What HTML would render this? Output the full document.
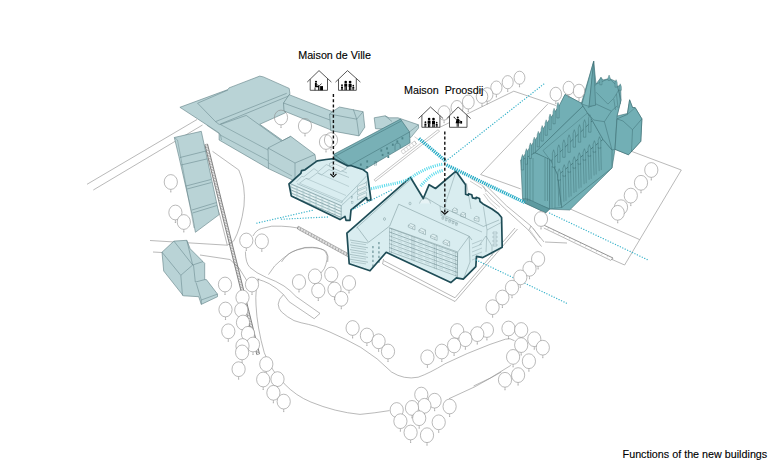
<!DOCTYPE html>
<html><head><meta charset="utf-8"><style>html,body{margin:0;padding:0;background:#fff;width:780px;height:468px;overflow:hidden}svg{display:block}text{font-family:"Liberation Sans",sans-serif;fill:#000;stroke:#000;stroke-width:0.12px}</style></head>
<body><svg width="780" height="468" viewBox="0 0 780 468" font-family="Liberation Sans, sans-serif" fill="#000">
<rect width="780" height="468" fill="#fff"/>
<g id="ground"></g>
<polyline points="87.0,184.3 197.0,119.5" fill="none" stroke="#8a8a8a" stroke-width="0.6" stroke-linejoin="round" /><polyline points="93.3,190.0 202.5,125.0" fill="none" stroke="#8a8a8a" stroke-width="0.6" stroke-linejoin="round" /><polyline points="150.0,240.5 227.3,245.2 220.0,216.0 214.0,198.0" fill="none" stroke="#8a8a8a" stroke-width="0.6" stroke-linejoin="round" /><polyline points="153.0,252.0 162.0,252.5" fill="none" stroke="#8a8a8a" stroke-width="0.6" stroke-linejoin="round" /><polyline points="200.0,255.0 230.0,259.5 239.0,268.0 247.0,281.0" fill="none" stroke="#8a8a8a" stroke-width="0.6" stroke-linejoin="round" /><path d="M212.5,151.3 L238.8,170 Q246,186 244,206 Q241,228 233.8,240.8 Q230,244 227.3,245.2" fill="none" stroke="#8a8a8a" stroke-width="0.6" /><path d="M258.8,278.5 Q255,290 256,305 Q257,327 264.3,352.8 Q272,372 284.1,383.6 Q296,396 310.8,402 Q335,412 360,414.4 Q375,413 389.5,410.6" fill="none" stroke="#8a8a8a" stroke-width="0.6" /><path d="M245.4,251.5 Q245.5,263 250,267.5 Q256,273 266.5,277.5 Q276,281 284,286 Q290,290 296,296.5 L320,313.4 L314.2,318.7" fill="none" stroke="#8a8a8a" stroke-width="0.6" /><path d="M257,279 Q264,281 269.2,283.7 Q277,288 283.5,294.6 L289.2,301.8 L314.2,318.7" fill="none" stroke="#8a8a8a" stroke-width="0.6" /><path d="M268.5,274.6 Q274,265 282,259.2 Q290,252 297.3,249.6 Q305,246.5 312.7,247.3 Q322,248 325.2,251.5 Q328,255 327.1,259.2 Q326,265 324.2,268.8 L320.4,273.7" fill="none" stroke="#8a8a8a" stroke-width="0.6" /><path d="M253,236 Q256,230 261.5,228.5 Q272,225 281.5,226.2 Q290,226.5 298,228" fill="none" stroke="#8a8a8a" stroke-width="0.6" /><polygon points="298.5,226.3 350.0,254.5 349.0,257.3 297.5,229.0" fill="#e2e2e2" stroke="#888" stroke-width="0.6" stroke-linejoin="round" /><path d="M298.0,226.4l-0.6,2.6M300.7,227.9l-0.6,2.6M303.4,229.4l-0.6,2.6M306.1,230.9l-0.6,2.6M308.8,232.3l-0.6,2.6M311.6,233.8l-0.6,2.6M314.3,235.3l-0.6,2.6M317.0,236.8l-0.6,2.6M319.7,238.3l-0.6,2.6M322.4,239.8l-0.6,2.6M325.1,241.2l-0.6,2.6M327.8,242.7l-0.6,2.6M330.5,244.2l-0.6,2.6M333.2,245.7l-0.6,2.6M335.9,247.2l-0.6,2.6M338.7,248.7l-0.6,2.6M341.4,250.1l-0.6,2.6M344.1,251.6l-0.6,2.6M346.8,253.1l-0.6,2.6M349.5,254.6l-0.6,2.6" fill="none" stroke="#777" stroke-width="0.5" /><path d="M281.5,262 Q288,252 297,250 Q305,247 312.3,247.7 Q322,248 326.2,251.5 Q329,256 327.7,262" fill="none" stroke="#8a8a8a" stroke-width="0.6" /><path d="M283.5,294.6 Q278.5,299 278.2,304.2 Q278.5,309 281.5,311.9 Q287,317 294,320.6 Q301,323 308.5,324.4 Q316,326 322.9,329.2 L330,332.1 Q346,339 360.8,347.4 Q378,358 391.5,372 Q404,380 418.2,377.2 Q430,373 444.9,363.8 Q467,353 490,344.4 L505.4,339.2 Q510,337.5 514.6,340.8" fill="none" stroke="#8a8a8a" stroke-width="0.6" /><path d="M473.6,386 L490,378.2 L510.8,365.4" fill="none" stroke="#8a8a8a" stroke-width="0.6" /><path d="M449,398.7 Q475,388 501.3,372" fill="none" stroke="#8a8a8a" stroke-width="0.6" /><polyline points="439.0,127.7 513.8,91.2 556.0,105.5" fill="none" stroke="#8a8a8a" stroke-width="0.6" stroke-linejoin="round" /><polyline points="547.7,104.1 480.6,174.5 520.7,188.9" fill="none" stroke="#8a8a8a" stroke-width="0.6" stroke-linejoin="round" /><polyline points="628.0,150.0 681.3,170.0 624.6,265.0 611.0,259.0" fill="none" stroke="#8a8a8a" stroke-width="0.6" stroke-linejoin="round" /><polyline points="569.2,208.5 639.6,239.6" fill="none" stroke="#8a8a8a" stroke-width="0.6" stroke-linejoin="round" /><polyline points="382.6,264.0 455.0,301.5 517.5,229.0" fill="none" stroke="#8a8a8a" stroke-width="0.6" stroke-linejoin="round" /><polyline points="384.0,260.8 455.0,297.8 515.0,228.0" fill="none" stroke="#8a8a8a" stroke-width="0.6" stroke-linejoin="round" /><polyline points="383.6,259.0 382.6,264.0" fill="none" stroke="#8a8a8a" stroke-width="0.6" stroke-linejoin="round" /><polyline points="542.7,224.6 613.0,258.0" fill="none" stroke="#777" stroke-width="0.8" stroke-linejoin="round" /><polyline points="543.8,228.0 610.8,260.4" fill="none" stroke="#8a8a8a" stroke-width="0.6" stroke-linejoin="round" /><path d="M543.0,225.0l-0.5,1.6M548.4,227.6l-0.5,1.6M553.8,230.1l-0.5,1.6M559.2,232.7l-0.5,1.6M564.5,235.3l-0.5,1.6M569.9,237.8l-0.5,1.6M575.3,240.4l-0.5,1.6M580.7,243.0l-0.5,1.6M586.1,245.6l-0.5,1.6M591.5,248.1l-0.5,1.6M596.8,250.7l-0.5,1.6M602.2,253.3l-0.5,1.6M607.6,255.8l-0.5,1.6M613.0,258.4l-0.5,1.6" fill="none" stroke="#999" stroke-width="0.4" /><polyline points="613.0,258.0 610.8,260.4" fill="none" stroke="#8a8a8a" stroke-width="0.6" stroke-linejoin="round" /><polyline points="482.6,186.4 504.4,208.2 528.8,230.4 541.5,246.5" fill="none" stroke="#8a8a8a" stroke-width="0.6" stroke-linejoin="round" /><polyline points="485.0,184.5 506.5,205.8 531.0,226.0 544.0,242.0" fill="none" stroke="#8a8a8a" stroke-width="0.6" stroke-linejoin="round" /><polyline points="528.8,230.4 531.0,226.0" fill="none" stroke="#8a8a8a" stroke-width="0.6" stroke-linejoin="round" /><polyline points="545.0,242.0 567.0,243.0" fill="none" stroke="#8a8a8a" stroke-width="0.6" stroke-linejoin="round" /><polyline points="530.0,230.0 537.0,240.0" fill="none" stroke="#999" stroke-width="0.4" stroke-linejoin="round" /><polyline points="533.0,228.0 540.0,238.0" fill="none" stroke="#999" stroke-width="0.4" stroke-linejoin="round" /><polyline points="471.0,178.5 483.8,186.5 486.0,192.0" fill="none" stroke="#999" stroke-width="0.5" stroke-linejoin="round" /><polyline points="470.0,181.0 482.0,188.5" fill="none" stroke="#999" stroke-width="0.5" stroke-linejoin="round" /><path d="M485.4,192.9 Q490,200 499.9,207.3" fill="none" stroke="#999" stroke-width="0.5" /><path d="M483.5,194 Q488,202 497,209" fill="none" stroke="#999" stroke-width="0.5" /><polyline points="207.5,144.0 259.5,354.0" fill="none" stroke="#555" stroke-width="0.7" stroke-linejoin="round" /><polyline points="204.8,144.7 256.8,354.7" fill="none" stroke="#555" stroke-width="0.7" stroke-linejoin="round" /><path d="M207.5,144.0l-2.7,0.7M207.9,145.6l-2.7,0.7M208.3,147.1l-2.7,0.7M208.7,148.7l-2.7,0.7M209.0,150.2l-2.7,0.7M209.4,151.8l-2.7,0.7M209.8,153.3l-2.7,0.7M210.2,154.9l-2.7,0.7M210.6,156.4l-2.7,0.7M211.0,158.0l-2.7,0.7M211.4,159.6l-2.7,0.7M211.7,161.1l-2.7,0.7M212.1,162.7l-2.7,0.7M212.5,164.2l-2.7,0.7M212.9,165.8l-2.7,0.7M213.3,167.3l-2.7,0.7M213.7,168.9l-2.7,0.7M214.0,170.4l-2.7,0.7M214.4,172.0l-2.7,0.7M214.8,173.6l-2.7,0.7M215.2,175.1l-2.7,0.7M215.6,176.7l-2.7,0.7M216.0,178.2l-2.7,0.7M216.4,179.8l-2.7,0.7M216.7,181.3l-2.7,0.7M217.1,182.9l-2.7,0.7M217.5,184.4l-2.7,0.7M217.9,186.0l-2.7,0.7M218.3,187.6l-2.7,0.7M218.7,189.1l-2.7,0.7M219.1,190.7l-2.7,0.7M219.4,192.2l-2.7,0.7M219.8,193.8l-2.7,0.7M220.2,195.3l-2.7,0.7M220.6,196.9l-2.7,0.7M221.0,198.4l-2.7,0.7M221.4,200.0l-2.7,0.7M221.8,201.6l-2.7,0.7M222.1,203.1l-2.7,0.7M222.5,204.7l-2.7,0.7M222.9,206.2l-2.7,0.7M223.3,207.8l-2.7,0.7M223.7,209.3l-2.7,0.7M224.1,210.9l-2.7,0.7M224.4,212.4l-2.7,0.7M224.8,214.0l-2.7,0.7M225.2,215.6l-2.7,0.7M225.6,217.1l-2.7,0.7M226.0,218.7l-2.7,0.7M226.4,220.2l-2.7,0.7M226.8,221.8l-2.7,0.7M227.1,223.3l-2.7,0.7M227.5,224.9l-2.7,0.7M227.9,226.4l-2.7,0.7M228.3,228.0l-2.7,0.7M228.7,229.6l-2.7,0.7M229.1,231.1l-2.7,0.7M229.5,232.7l-2.7,0.7M229.8,234.2l-2.7,0.7M230.2,235.8l-2.7,0.7M230.6,237.3l-2.7,0.7M231.0,238.9l-2.7,0.7M231.4,240.4l-2.7,0.7M231.8,242.0l-2.7,0.7M232.2,243.6l-2.7,0.7M232.5,245.1l-2.7,0.7M232.9,246.7l-2.7,0.7M233.3,248.2l-2.7,0.7M233.7,249.8l-2.7,0.7M234.1,251.3l-2.7,0.7M234.5,252.9l-2.7,0.7M234.8,254.4l-2.7,0.7M235.2,256.0l-2.7,0.7M235.6,257.6l-2.7,0.7M236.0,259.1l-2.7,0.7M236.4,260.7l-2.7,0.7M236.8,262.2l-2.7,0.7M237.2,263.8l-2.7,0.7M237.5,265.3l-2.7,0.7M237.9,266.9l-2.7,0.7M238.3,268.4l-2.7,0.7M238.7,270.0l-2.7,0.7M239.1,271.6l-2.7,0.7M239.5,273.1l-2.7,0.7M239.9,274.7l-2.7,0.7M240.2,276.2l-2.7,0.7M240.6,277.8l-2.7,0.7M241.0,279.3l-2.7,0.7M241.4,280.9l-2.7,0.7M241.8,282.4l-2.7,0.7M242.2,284.0l-2.7,0.7M242.6,285.6l-2.7,0.7M242.9,287.1l-2.7,0.7M243.3,288.7l-2.7,0.7M243.7,290.2l-2.7,0.7M244.1,291.8l-2.7,0.7M244.5,293.3l-2.7,0.7M244.9,294.9l-2.7,0.7M245.2,296.4l-2.7,0.7M245.6,298.0l-2.7,0.7M246.0,299.6l-2.7,0.7M246.4,301.1l-2.7,0.7M246.8,302.7l-2.7,0.7M247.2,304.2l-2.7,0.7M247.6,305.8l-2.7,0.7M247.9,307.3l-2.7,0.7M248.3,308.9l-2.7,0.7M248.7,310.4l-2.7,0.7M249.1,312.0l-2.7,0.7M249.5,313.6l-2.7,0.7M249.9,315.1l-2.7,0.7M250.3,316.7l-2.7,0.7M250.6,318.2l-2.7,0.7M251.0,319.8l-2.7,0.7M251.4,321.3l-2.7,0.7M251.8,322.9l-2.7,0.7M252.2,324.4l-2.7,0.7M252.6,326.0l-2.7,0.7M253.0,327.6l-2.7,0.7M253.3,329.1l-2.7,0.7M253.7,330.7l-2.7,0.7M254.1,332.2l-2.7,0.7M254.5,333.8l-2.7,0.7M254.9,335.3l-2.7,0.7M255.3,336.9l-2.7,0.7M255.6,338.4l-2.7,0.7M256.0,340.0l-2.7,0.7M256.4,341.6l-2.7,0.7M256.8,343.1l-2.7,0.7M257.2,344.7l-2.7,0.7M257.6,346.2l-2.7,0.7M258.0,347.8l-2.7,0.7M258.3,349.3l-2.7,0.7M258.7,350.9l-2.7,0.7M259.1,352.4l-2.7,0.7M259.5,354.0l-2.7,0.7" fill="none" stroke="#666" stroke-width="0.5" />
<ellipse cx="281.0" cy="117.5" rx="6.60" ry="7.40" fill="#fff"/><ellipse cx="305.0" cy="126.0" rx="6.60" ry="7.40" fill="#fff"/><ellipse cx="331.0" cy="140.0" rx="6.60" ry="7.40" fill="#fff"/><ellipse cx="326.0" cy="142.0" rx="6.60" ry="7.40" fill="#fff"/>
<polygon points="174.3,137.5 201.3,131.3 219.2,214.6 195.4,232.3 192.5,216.3 178.8,156.3" fill="#b9d3d6" stroke="#5f7f84" stroke-width="0.6" stroke-linejoin="round" /><polyline points="180.0,157.5 206.0,151.0" fill="none" stroke="#5f7f84" stroke-width="0.5" stroke-linejoin="round" /><polyline points="181.0,165.0 207.5,158.8" fill="none" stroke="#5f7f84" stroke-width="0.5" stroke-linejoin="round" /><polyline points="186.0,186.0 211.0,179.5" fill="none" stroke="#5f7f84" stroke-width="0.5" stroke-linejoin="round" /><polyline points="187.0,189.0 211.5,182.5" fill="none" stroke="#5f7f84" stroke-width="0.5" stroke-linejoin="round" /><polyline points="192.0,210.0 216.5,202.5" fill="none" stroke="#5f7f84" stroke-width="0.5" stroke-linejoin="round" /><polyline points="192.5,213.0 217.0,205.5" fill="none" stroke="#5f7f84" stroke-width="0.5" stroke-linejoin="round" /><polyline points="174.3,137.5 177.5,140.0 194.0,228.0" fill="none" stroke="#5f7f84" stroke-width="0.4" stroke-linejoin="round" /><polygon points="162.0,252.2 173.9,241.1 186.8,240.3 190.2,248.8 203.0,261.6 204.7,263.3 204.7,279.6 206.4,279.6 217.5,294.1 217.5,296.7 201.3,304.4 198.7,296.7 183.3,295.8 163.7,271.0" fill="#b9d3d6" stroke="#5f7f84" stroke-width="0.6" stroke-linejoin="round" /><polyline points="162.0,252.2 180.8,275.3 192.7,265.0" fill="none" stroke="#5f7f84" stroke-width="0.5" stroke-linejoin="round" /><polyline points="180.8,275.3 182.5,295.8" fill="none" stroke="#5f7f84" stroke-width="0.5" stroke-linejoin="round" /><polyline points="173.9,241.1 192.7,265.0" fill="none" stroke="#5f7f84" stroke-width="0.5" stroke-linejoin="round" /><polyline points="186.8,240.3 192.7,265.0" fill="none" stroke="#5f7f84" stroke-width="0.5" stroke-linejoin="round" /><polyline points="192.7,265.0 203.0,261.6" fill="none" stroke="#5f7f84" stroke-width="0.5" stroke-linejoin="round" /><polyline points="193.5,265.0 195.3,282.1 204.7,279.6" fill="none" stroke="#5f7f84" stroke-width="0.5" stroke-linejoin="round" /><polyline points="196.2,283.0 201.3,300.0 217.5,294.1" fill="none" stroke="#5f7f84" stroke-width="0.5" stroke-linejoin="round" /><polyline points="201.3,300.0 201.3,304.4" fill="none" stroke="#5f7f84" stroke-width="0.5" stroke-linejoin="round" /><polygon points="179.9,107.3 227.8,89.6 229.0,87.9 259.7,76.1 263.4,76.9 289.2,88.4 289.9,93.3 285.4,112.8 259.8,124.3 282.7,140.6 290.7,136.3 315.0,154.5 316.3,163.8 292.5,180.0 268.8,168.8 219.1,140.0 219.1,133.0 202.7,122.2" fill="#b9d3d6" stroke="#5f7f84" stroke-width="0.6" stroke-linejoin="round" /><polyline points="197.6,103.2 215.5,121.6 286.7,93.3" fill="none" stroke="#5f7f84" stroke-width="0.5" stroke-linejoin="round" /><polyline points="215.5,121.6 219.2,124.5 289.2,95.8" fill="none" stroke="#5f7f84" stroke-width="0.5" stroke-linejoin="round" /><polyline points="197.6,103.2 228.0,90.0" fill="none" stroke="#5f7f84" stroke-width="0.5" stroke-linejoin="round" /><polyline points="220.4,124.5 246.2,115.4 281.8,141.2" fill="none" stroke="#5f7f84" stroke-width="0.5" stroke-linejoin="round" /><polyline points="220.4,124.5 268.0,150.0" fill="none" stroke="#5f7f84" stroke-width="0.45" stroke-linejoin="round" /><polyline points="268.0,148.0 290.7,136.3" fill="none" stroke="#5f7f84" stroke-width="0.5" stroke-linejoin="round" /><polyline points="268.0,148.0 268.5,168.8" fill="none" stroke="#5f7f84" stroke-width="0.5" stroke-linejoin="round" /><polyline points="268.0,148.0 295.0,163.0 315.0,154.5" fill="none" stroke="#5f7f84" stroke-width="0.5" stroke-linejoin="round" /><polyline points="295.0,163.0 295.0,178.0" fill="none" stroke="#5f7f84" stroke-width="0.5" stroke-linejoin="round" /><polyline points="206.9,125.3 220.4,134.5 221.5,140.0" fill="none" stroke="#5f7f84" stroke-width="0.45" stroke-linejoin="round" /><polyline points="220.4,135.1 268.0,160.5" fill="none" stroke="#5f7f84" stroke-width="0.45" stroke-linejoin="round" /><polyline points="268.5,163.0 292.0,176.0" fill="none" stroke="#5f7f84" stroke-width="0.4" stroke-linejoin="round" /><polygon points="289.2,94.7 332.5,111.7 331.3,130.1 284.0,111.0 283.5,103.0" fill="#b9d3d6" stroke="#5f7f84" stroke-width="0.6" stroke-linejoin="round" /><polyline points="283.5,103.0 330.8,120.3" fill="none" stroke="#5f7f84" stroke-width="0.5" stroke-linejoin="round" /><polygon points="334.2,110.5 339.4,107.0 363.1,111.7 364.8,127.2 359.0,135.9 330.8,130.7 329.6,114.0" fill="#b9d3d6" stroke="#5f7f84" stroke-width="0.6" stroke-linejoin="round" /><polyline points="329.6,114.0 356.7,119.2 363.1,111.7" fill="none" stroke="#5f7f84" stroke-width="0.5" stroke-linejoin="round" /><polyline points="356.7,119.2 359.0,135.9" fill="none" stroke="#5f7f84" stroke-width="0.5" stroke-linejoin="round" /><polyline points="353.3,109.3 356.7,119.2" fill="none" stroke="#5f7f84" stroke-width="0.5" stroke-linejoin="round" /><polygon points="374.2,117.8 385.1,115.8 389.0,117.8 398.0,117.8 418.5,124.8 418.6,128.0 410.8,137.6 400.0,130.0 375.5,128.7" fill="#b9d3d6" stroke="#5f7f84" stroke-width="0.6" stroke-linejoin="round" /><polyline points="385.1,115.8 392.0,121.5" fill="none" stroke="#5f7f84" stroke-width="0.5" stroke-linejoin="round" /><polyline points="409.5,131.9 418.5,124.8" fill="none" stroke="#5f7f84" stroke-width="0.5" stroke-linejoin="round" /><polygon points="333.8,154.3 400.5,119.1 409.5,131.9 410.1,142.8 362.0,171.0 352.0,168.0 335.0,162.0" fill="#78b0b6" stroke="#3d6c72" stroke-width="0.6" stroke-linejoin="round" /><polyline points="335.1,156.2 401.2,121.0" fill="none" stroke="#3d6c72" stroke-width="0.5" stroke-linejoin="round" /><polyline points="333.8,154.3 349.2,165.8 409.5,132.0" fill="none" stroke="#3d6c72" stroke-width="0.5" stroke-linejoin="round" /><rect x="359.9" y="163.5" width="1.8" height="2.2" fill="#4f858b"/><rect x="366.3" y="160.3" width="1.8" height="2.2" fill="#4f858b"/><rect x="366.3" y="166.0" width="1.8" height="2.2" fill="#4f858b"/><rect x="380.4" y="149.4" width="1.8" height="2.2" fill="#4f858b"/><rect x="386.1" y="147.4" width="1.8" height="2.2" fill="#4f858b"/><rect x="391.9" y="143.6" width="1.8" height="2.2" fill="#4f858b"/><rect x="396.4" y="140.4" width="1.8" height="2.2" fill="#4f858b"/><rect x="401.5" y="137.2" width="1.8" height="2.2" fill="#4f858b"/><rect x="381.7" y="153.9" width="1.8" height="2.2" fill="#4f858b"/><rect x="387.4" y="151.9" width="1.8" height="2.2" fill="#4f858b"/><rect x="387.4" y="155.8" width="1.8" height="2.2" fill="#4f858b"/><path d="M374.8,166V161.5h1.6V165.5" fill="none" stroke="#3d6c72" stroke-width="0.45" /><path d="M395,150.5V146.5a2.6,2.6 0 0 1 5.2,-1.5V148" fill="none" stroke="#3d6c72" stroke-width="0.5" /><polygon points="374.2,179.7 438.0,129.7 439.6,131.2 375.4,181.3" fill="#fff" stroke="#8a8a8a" stroke-width="0.5" stroke-linejoin="round" /><polyline points="401.0,151.0 414.5,141.0 416.5,144.0 403.0,154.0" fill="none" stroke="#999" stroke-width="0.45" stroke-linejoin="round" /><path d="M401.0,151.0l2,3M403.7,149.0l2,3M406.4,147.0l2,3M409.1,145.0l2,3M411.8,143.0l2,3M414.5,141.0l2,3" fill="none" stroke="#999" stroke-width="0.4" /><polyline points="414.5,136.7 419.0,140.0" fill="none" stroke="#999" stroke-width="0.45" stroke-linejoin="round" /><polygon points="520.7,160.0 523.5,158.8 560.0,105.0 565.0,94.5 581.4,103.2 593.7,61.3 596.0,84.1 601.0,77.4 603.0,80.0 609.4,78.5 616.0,81.5 617.3,86.4 620.6,85.3 621.0,100.0 617.0,116.0 627.4,113.5 629.6,99.8 632.5,107.5 635.2,107.7 641.9,118.9 640.8,141.3 628.5,154.8 615.0,149.3 612.0,168.0 569.7,210.0 549.5,209.1 545.8,212.8 524.8,203.0 522.6,198.7" fill="#72afb5" stroke="#3f6f74" stroke-width="0.6" stroke-linejoin="round" /><polygon points="521.0,160.0 559.0,106.0 565.0,94.5 581.4,103.2 583.0,106.0 535.0,152.7 525.7,158.1" fill="#72afb5" stroke="#3f6f74" stroke-width="0.5" stroke-linejoin="round" /><polygon points="535.0,152.7 583.0,106.0 592.4,120.7 551.0,160.8" fill="#72afb5" stroke="#3f6f74" stroke-width="0.55" stroke-linejoin="round" /><polyline points="543.0,150.5 587.5,113.0" fill="none" stroke="#3f6f74" stroke-width="0.4" stroke-linejoin="round" /><polygon points="525.7,158.1 535.0,152.7 549.7,159.4 549.7,208.8 525.7,199.5" fill="#72afb5" stroke="#3f6f74" stroke-width="0.55" stroke-linejoin="round" /><polygon points="551.0,160.8 592.4,120.7 603.0,139.4 557.7,175.4" fill="#72afb5" stroke="#3f6f74" stroke-width="0.55" stroke-linejoin="round" /><polygon points="549.7,159.4 551.0,160.8 557.7,175.4 561.7,207.5 549.7,208.8" fill="#72afb5" stroke="#3f6f74" stroke-width="0.5" stroke-linejoin="round" /><polygon points="557.7,175.4 603.0,139.4 612.0,150.0 612.0,168.0 561.7,207.5" fill="#72afb5" stroke="#3f6f74" stroke-width="0.55" stroke-linejoin="round" /><polygon points="581.4,103.2 583.0,106.0 592.4,120.7 603.0,139.4 612.0,150.0 615.0,149.3 617.0,116.0 621.0,100.0 617.3,86.4 609.4,78.5 596.0,84.1" fill="#72afb5" stroke="#3f6f74" stroke-width="0.5" stroke-linejoin="round" /><polyline points="587.9,107.6 596.2,104.1 611.4,111.1 604.4,121.7 593.7,120.0 587.5,113.0" fill="none" stroke="#3f6f74" stroke-width="0.5" stroke-linejoin="round" /><polyline points="611.4,111.1 617.0,106.0" fill="none" stroke="#3f6f74" stroke-width="0.5" stroke-linejoin="round" /><polyline points="604.4,121.7 612.0,150.0" fill="none" stroke="#3f6f74" stroke-width="0.5" stroke-linejoin="round" /><polyline points="596.2,92.3 607.9,104.1 613.8,98.2 620.2,87.6" fill="none" stroke="#3f6f74" stroke-width="0.45" stroke-linejoin="round" /><polygon points="599.8,84.8 599.8,80.3 600.9,77.3 602.0,80.3 602.0,84.8" fill="#72afb5" stroke="#3f6f74" stroke-width="0.4" stroke-linejoin="round" /><polygon points="608.0,80.5 608.0,78.0 609.1,75.0 610.2,78.0 610.2,80.5" fill="#72afb5" stroke="#3f6f74" stroke-width="0.4" stroke-linejoin="round" /><polygon points="615.0,87.2 615.0,82.7 616.1,79.7 617.2,82.7 617.2,87.2" fill="#72afb5" stroke="#3f6f74" stroke-width="0.4" stroke-linejoin="round" /><polygon points="619.1,90.3 619.1,86.8 620.2,83.8 621.3,86.8 621.3,90.3" fill="#72afb5" stroke="#3f6f74" stroke-width="0.4" stroke-linejoin="round" /><path d="M613.8,99L615.5,110M616.5,94L618,108M619,90L620.5,104" fill="none" stroke="#3f6f74" stroke-width="0.45" /><polygon points="582.0,104.1 593.7,61.3 589.1,106.4" fill="#7db8bd" stroke="#3f6f74" stroke-width="0.5" stroke-linejoin="round" /><polygon points="589.1,106.4 593.7,61.3 595.6,105.3" fill="#6aa7ad" stroke="#3f6f74" stroke-width="0.5" stroke-linejoin="round" /><polygon points="615.0,149.3 617.0,118.9 627.4,114.4 629.6,99.8 632.5,107.5 635.2,107.7 641.9,118.9 640.8,141.3 628.5,154.8" fill="#72afb5" stroke="#3f6f74" stroke-width="0.6" stroke-linejoin="round" /><polyline points="617.0,118.9 623.0,121.0 632.5,129.7 641.9,118.9" fill="none" stroke="#3f6f74" stroke-width="0.5" stroke-linejoin="round" /><polyline points="632.5,129.7 631.5,152.0" fill="none" stroke="#3f6f74" stroke-width="0.5" stroke-linejoin="round" /><polyline points="627.4,114.4 635.2,107.7" fill="none" stroke="#3f6f74" stroke-width="0.4" stroke-linejoin="round" /><polygon points="522.6,198.7 524.8,203.0 545.8,212.8 549.5,209.1 528.0,199.0" fill="#5d9aa0" stroke="#3f6f74" stroke-width="0.5" stroke-linejoin="round" /><polygon points="521.4,170.0 521.4,158.0 522.5,154.5 523.6,158.0 523.6,170.0" fill="#72afb5" stroke="#3f6f74" stroke-width="0.45" stroke-linejoin="round" /><polygon points="525.3,164.2 525.3,152.2 526.4,148.7 527.5,152.2 527.5,164.2" fill="#72afb5" stroke="#3f6f74" stroke-width="0.45" stroke-linejoin="round" /><polygon points="529.3,158.4 529.3,146.4 530.4,142.9 531.5,146.4 531.5,158.4" fill="#72afb5" stroke="#3f6f74" stroke-width="0.45" stroke-linejoin="round" /><polygon points="533.2,152.7 533.2,140.7 534.3,137.2 535.4,140.7 535.4,152.7" fill="#72afb5" stroke="#3f6f74" stroke-width="0.45" stroke-linejoin="round" /><polygon points="537.2,146.9 537.2,134.9 538.3,131.4 539.4,134.9 539.4,146.9" fill="#72afb5" stroke="#3f6f74" stroke-width="0.45" stroke-linejoin="round" /><polygon points="541.1,141.1 541.1,129.1 542.2,125.6 543.3,129.1 543.3,141.1" fill="#72afb5" stroke="#3f6f74" stroke-width="0.45" stroke-linejoin="round" /><polygon points="545.1,135.3 545.1,123.3 546.2,119.8 547.3,123.3 547.3,135.3" fill="#72afb5" stroke="#3f6f74" stroke-width="0.45" stroke-linejoin="round" /><polygon points="549.0,129.6 549.0,117.6 550.1,114.1 551.2,117.6 551.2,129.6" fill="#72afb5" stroke="#3f6f74" stroke-width="0.45" stroke-linejoin="round" /><polygon points="553.0,123.8 553.0,111.8 554.1,108.3 555.2,111.8 555.2,123.8" fill="#72afb5" stroke="#3f6f74" stroke-width="0.45" stroke-linejoin="round" /><polygon points="556.9,118.0 556.9,106.0 558.0,102.5 559.1,106.0 559.1,118.0" fill="#72afb5" stroke="#3f6f74" stroke-width="0.45" stroke-linejoin="round" /><polygon points="552.4,167.3 552.4,153.3 553.6,149.8 554.8,153.3 554.8,167.3" fill="#72afb5" stroke="#3f6f74" stroke-width="0.45" stroke-linejoin="round" /><polygon points="557.6,162.3 557.6,148.3 558.8,144.8 560.0,148.3 560.0,162.3" fill="#72afb5" stroke="#3f6f74" stroke-width="0.45" stroke-linejoin="round" /><polygon points="562.7,157.3 562.7,143.3 563.9,139.8 565.1,143.3 565.1,157.3" fill="#72afb5" stroke="#3f6f74" stroke-width="0.45" stroke-linejoin="round" /><polygon points="567.9,152.3 567.9,138.3 569.1,134.8 570.3,138.3 570.3,152.3" fill="#72afb5" stroke="#3f6f74" stroke-width="0.45" stroke-linejoin="round" /><polygon points="573.1,147.2 573.1,133.2 574.3,129.7 575.5,133.2 575.5,147.2" fill="#72afb5" stroke="#3f6f74" stroke-width="0.45" stroke-linejoin="round" /><polygon points="578.3,142.2 578.3,128.2 579.5,124.7 580.7,128.2 580.7,142.2" fill="#72afb5" stroke="#3f6f74" stroke-width="0.45" stroke-linejoin="round" /><polygon points="583.4,137.2 583.4,123.2 584.6,119.7 585.8,123.2 585.8,137.2" fill="#72afb5" stroke="#3f6f74" stroke-width="0.45" stroke-linejoin="round" /><polygon points="588.6,132.2 588.6,118.2 589.8,114.7 591.0,118.2 591.0,132.2" fill="#72afb5" stroke="#3f6f74" stroke-width="0.45" stroke-linejoin="round" /><polygon points="557.9,180.2 557.9,172.2 559.2,168.7 560.5,172.2 560.5,180.2" fill="#72afb5" stroke="#3f6f74" stroke-width="0.45" stroke-linejoin="round" /><polygon points="562.9,176.2 562.9,168.2 564.2,164.7 565.5,168.2 565.5,176.2" fill="#72afb5" stroke="#3f6f74" stroke-width="0.45" stroke-linejoin="round" /><polygon points="568.0,172.2 568.0,164.2 569.3,160.7 570.6,164.2 570.6,172.2" fill="#72afb5" stroke="#3f6f74" stroke-width="0.45" stroke-linejoin="round" /><polygon points="573.0,168.2 573.0,160.2 574.3,156.7 575.6,160.2 575.6,168.2" fill="#72afb5" stroke="#3f6f74" stroke-width="0.45" stroke-linejoin="round" /><polygon points="578.0,164.2 578.0,156.2 579.3,152.7 580.6,156.2 580.6,164.2" fill="#72afb5" stroke="#3f6f74" stroke-width="0.45" stroke-linejoin="round" /><polygon points="583.1,160.2 583.1,152.2 584.4,148.7 585.7,152.2 585.7,160.2" fill="#72afb5" stroke="#3f6f74" stroke-width="0.45" stroke-linejoin="round" /><polygon points="588.1,156.2 588.1,148.2 589.4,144.7 590.7,148.2 590.7,156.2" fill="#72afb5" stroke="#3f6f74" stroke-width="0.45" stroke-linejoin="round" /><polygon points="593.1,152.2 593.1,144.2 594.4,140.7 595.7,144.2 595.7,152.2" fill="#72afb5" stroke="#3f6f74" stroke-width="0.45" stroke-linejoin="round" /><polygon points="598.2,148.2 598.2,140.2 599.5,136.7 600.8,140.2 600.8,148.2" fill="#72afb5" stroke="#3f6f74" stroke-width="0.45" stroke-linejoin="round" /><path d="M558.0,179.2L558.9,206.2M560.5,179.2L561.0,205.2M563.0,175.2L563.9,201.8M565.5,175.2L566.0,200.8M568.1,171.2L569.0,197.4M570.6,171.2L571.1,196.4M573.1,167.2L574.0,193.0M575.6,167.2L576.1,192.0M578.1,163.2L579.0,188.6M580.6,163.2L581.1,187.6M583.2,159.2L584.1,184.2M585.7,159.2L586.2,183.2M588.2,155.2L589.1,179.8M590.7,155.2L591.2,178.8M593.2,151.2L594.1,175.5M595.7,151.2L596.2,174.5M598.3,147.2L599.2,171.1M600.8,147.2L601.3,170.1M527.5,158V201M530,158V201M533,158V201M545,158V201M547.5,158V201M552,166V208M555,166V208" fill="none" stroke="#3f6f74" stroke-width="0.45" /><polyline points="543.0,150.5 549.7,159.4" fill="none" stroke="#3f6f74" stroke-width="0.45" stroke-linejoin="round" /><polygon points="289.0,184.0 300.8,173.4 301.6,170.6 305.0,169.8 315.8,161.9 317.4,160.8 326.0,159.5 334.0,158.7 347.5,165.8 350.6,165.5 363.3,169.8 367.3,172.9 371.0,199.8 367.3,200.6 366.5,197.5 351.0,210.0 350.0,220.4 346.0,220.4 345.0,216.4 340.0,219.6 291.3,195.9" fill="#d9edf0" stroke="none" stroke-width="0.6" stroke-linejoin="round" /><polygon points="290.6,183.8 341.4,205.7 341.4,217.5 340.0,219.6 291.3,195.9" fill="#c9dfe2" stroke="none" stroke-width="0.6" stroke-linejoin="round" /><polyline points="290.7,183.8 341.4,205.7" fill="none" stroke="#5f7f85" stroke-width="0.55" stroke-linejoin="round" /><polyline points="290.7,186.8 341.4,208.6" fill="none" stroke="#7f9fa4" stroke-width="0.55" stroke-linejoin="round" /><polyline points="290.7,189.7 341.4,211.6" fill="none" stroke="#5f7f85" stroke-width="0.55" stroke-linejoin="round" /><polyline points="290.7,192.7 341.4,214.5" fill="none" stroke="#7f9fa4" stroke-width="0.55" stroke-linejoin="round" /><polyline points="290.7,195.6 341.4,217.5" fill="none" stroke="#5f7f85" stroke-width="0.55" stroke-linejoin="round" /><path d="M291.7,185.4l4.2,1.8v1.1l-4.2,-1.8zM298.1,188.1l4.2,1.8v1.1l-4.2,-1.8zM304.4,190.9l4.2,1.8v1.1l-4.2,-1.8zM310.7,193.6l4.2,1.8v1.1l-4.2,-1.8zM317.0,196.4l4.2,1.8v1.1l-4.2,-1.8zM323.4,199.1l4.2,1.8v1.1l-4.2,-1.8zM329.7,201.8l4.2,1.8v1.1l-4.2,-1.8zM336.0,204.6l4.2,1.8v1.1l-4.2,-1.8zM291.7,188.4l4.2,1.8v1.1l-4.2,-1.8zM298.1,191.1l4.2,1.8v1.1l-4.2,-1.8zM304.4,193.8l4.2,1.8v1.1l-4.2,-1.8zM310.7,196.6l4.2,1.8v1.1l-4.2,-1.8zM317.0,199.3l4.2,1.8v1.1l-4.2,-1.8zM323.4,202.0l4.2,1.8v1.1l-4.2,-1.8zM329.7,204.8l4.2,1.8v1.1l-4.2,-1.8zM336.0,207.5l4.2,1.8v1.1l-4.2,-1.8zM291.7,191.3l4.2,1.8v1.1l-4.2,-1.8zM298.1,194.0l4.2,1.8v1.1l-4.2,-1.8zM304.4,196.8l4.2,1.8v1.1l-4.2,-1.8zM310.7,199.5l4.2,1.8v1.1l-4.2,-1.8zM317.0,202.3l4.2,1.8v1.1l-4.2,-1.8zM323.4,205.0l4.2,1.8v1.1l-4.2,-1.8zM329.7,207.7l4.2,1.8v1.1l-4.2,-1.8zM336.0,210.5l4.2,1.8v1.1l-4.2,-1.8zM291.7,194.3l4.2,1.8v1.1l-4.2,-1.8zM298.1,197.0l4.2,1.8v1.1l-4.2,-1.8zM304.4,199.7l4.2,1.8v1.1l-4.2,-1.8zM310.7,202.5l4.2,1.8v1.1l-4.2,-1.8zM317.0,205.2l4.2,1.8v1.1l-4.2,-1.8zM323.4,207.9l4.2,1.8v1.1l-4.2,-1.8zM329.7,210.7l4.2,1.8v1.1l-4.2,-1.8zM336.0,213.4l4.2,1.8v1.1l-4.2,-1.8z" fill="#eef7f8" stroke="none"/><polyline points="341.4,205.7 341.4,218.0" fill="none" stroke="#7f9fa4" stroke-width="0.5" stroke-linejoin="round" /><polyline points="341.4,205.7 367.3,181.0" fill="none" stroke="#7f9fa4" stroke-width="0.5" stroke-linejoin="round" /><polygon points="357.5,186.5 366.5,182.5 366.5,185.8 357.5,189.8" fill="#e4f1f3" stroke="#7f9fa4" stroke-width="0.45" stroke-linejoin="round" /><polygon points="357.5,191.5 366.5,187.5 366.5,190.8 357.5,194.8" fill="#e4f1f3" stroke="#7f9fa4" stroke-width="0.45" stroke-linejoin="round" /><polygon points="357.5,196.5 366.5,192.5 366.5,195.8 357.5,199.8" fill="#e4f1f3" stroke="#7f9fa4" stroke-width="0.45" stroke-linejoin="round" /><rect x="351.2" y="196.6" width="1.4" height="1.8" fill="none" stroke="#7f9fa4" stroke-width="0.4"/><rect x="351.6" y="201.6" width="1.4" height="1.8" fill="none" stroke="#7f9fa4" stroke-width="0.4"/><polyline points="296.5,181.8 301.8,176.3 303.8,176.8 314.0,168.6 318.2,171.6 326.3,164.6 347.0,173.0" fill="none" stroke="#9ab4b8" stroke-width="0.6" stroke-linejoin="round" /><polyline points="299.5,183.2 306.0,178.4 309.0,179.0 317.5,172.8 321.5,175.0 329.0,169.5 349.0,177.5" fill="none" stroke="#9ab4b8" stroke-width="0.6" stroke-linejoin="round" /><polyline points="297.0,183.6 342.5,203.0" fill="none" stroke="#7f9fa4" stroke-width="0.5" stroke-linejoin="round" /><polyline points="299.5,183.2 343.0,201.5" fill="none" stroke="#9ab4b8" stroke-width="0.5" stroke-linejoin="round" /><polyline points="306.0,178.4 346.0,195.5" fill="none" stroke="#9ab4b8" stroke-width="0.5" stroke-linejoin="round" /><polyline points="317.5,172.8 349.0,186.5" fill="none" stroke="#9ab4b8" stroke-width="0.5" stroke-linejoin="round" /><polyline points="341.5,202.0 366.5,176.0" fill="none" stroke="#7f9fa4" stroke-width="0.5" stroke-linejoin="round" /><polygon points="329.5,163.5 335.5,160.8 347.0,165.8 346.0,169.0 340.5,171.5 329.8,166.5" fill="#e6f3f5" stroke="#7f9fa4" stroke-width="0.5" stroke-linejoin="round" /><polyline points="329.8,166.5 335.5,164.0 346.0,169.0" fill="none" stroke="#7f9fa4" stroke-width="0.4" stroke-linejoin="round" /><polygon points="289.0,184.0 300.8,173.4 301.6,170.6 305.0,169.8 315.8,161.9 317.4,160.8 326.0,159.5 334.0,158.7 347.5,165.8 350.6,165.5 363.3,169.8 367.3,172.9 371.0,199.8 367.3,200.6 366.5,197.5 351.0,210.0 350.0,220.4 346.0,220.4 345.0,216.4 340.0,219.6 291.3,195.9" fill="none" stroke="#1f4d57" stroke-width="1.7" stroke-linejoin="round" /><polygon points="346.9,233.1 410.4,177.3 423.3,198.5 429.1,184.7 435.5,188.5 456.0,171.2 465.6,184.7 465.6,194.3 468.3,195.3 468.5,193.8 471.8,194.8 472.5,197.8 476.0,198.6 476.3,197.3 479.5,198.5 480.0,201.5 483.0,203.9 492.0,209.0 498.3,213.5 501.6,217.5 502.2,247.2 482.8,257.6 476.5,256.3 475.8,266.7 463.3,279.2 456.4,277.8 450.8,282.6 386.2,252.3 370.0,270.8 349.2,263.8" fill="#d9edf0" stroke="none" stroke-width="0.6" stroke-linejoin="round" /><polyline points="356.4,228.0 400.0,188.8 411.6,178.8" fill="none" stroke="#7a969b" stroke-width="0.5" stroke-linejoin="round" /><polyline points="357.0,226.9 368.5,242.3 389.7,226.0" fill="none" stroke="#7a969b" stroke-width="0.55" stroke-linejoin="round" /><polyline points="389.7,226.0 398.7,204.2 469.2,236.3 472.0,240.0" fill="none" stroke="#7a969b" stroke-width="0.55" stroke-linejoin="round" /><polyline points="350.0,240.0 368.0,243.0" fill="none" stroke="#7a969b" stroke-width="0.5" stroke-linejoin="round" /><polyline points="351.0,242.5 366.0,244.7" fill="none" stroke="#7a969b" stroke-width="0.4" stroke-linejoin="round" /><polyline points="350.0,244.8 368.0,247.8" fill="none" stroke="#7a969b" stroke-width="0.5" stroke-linejoin="round" /><polyline points="351.0,247.3 366.0,249.5" fill="none" stroke="#7a969b" stroke-width="0.4" stroke-linejoin="round" /><polyline points="350.0,249.6 368.0,252.6" fill="none" stroke="#7a969b" stroke-width="0.5" stroke-linejoin="round" /><polyline points="351.0,252.1 366.0,254.3" fill="none" stroke="#7a969b" stroke-width="0.4" stroke-linejoin="round" /><polyline points="350.0,254.4 368.0,257.4" fill="none" stroke="#7a969b" stroke-width="0.5" stroke-linejoin="round" /><polyline points="351.0,256.9 366.0,259.1" fill="none" stroke="#7a969b" stroke-width="0.4" stroke-linejoin="round" /><polyline points="350.0,259.2 368.0,262.2" fill="none" stroke="#7a969b" stroke-width="0.5" stroke-linejoin="round" /><polyline points="351.0,261.7 366.0,263.9" fill="none" stroke="#7a969b" stroke-width="0.4" stroke-linejoin="round" /><path d="M372.0,246.0h1.8v2.3h-1.8zM378.0,242.0h1.8v2.3h-1.8zM372.0,250.6h1.8v2.3h-1.8zM378.0,246.6h1.8v2.3h-1.8zM372.0,255.2h1.8v2.3h-1.8zM378.0,251.2h1.8v2.3h-1.8zM372.0,259.8h1.8v2.3h-1.8zM378.0,255.8h1.8v2.3h-1.8zM372.0,264.4h1.8v2.3h-1.8zM378.0,260.4h1.8v2.3h-1.8z" fill="#8fb0b5"/><polyline points="389.2,228.0 457.5,253.0" fill="none" stroke="#7a969b" stroke-width="0.55" stroke-linejoin="round" /><polyline points="389.2,231.9 457.5,256.9" fill="none" stroke="#5b7a80" stroke-width="0.55" stroke-linejoin="round" /><polyline points="389.2,235.8 457.5,260.8" fill="none" stroke="#7a969b" stroke-width="0.55" stroke-linejoin="round" /><polyline points="389.2,239.7 457.5,264.7" fill="none" stroke="#5b7a80" stroke-width="0.55" stroke-linejoin="round" /><polyline points="389.2,243.6 457.5,268.6" fill="none" stroke="#7a969b" stroke-width="0.55" stroke-linejoin="round" /><polyline points="389.2,247.5 457.5,272.5" fill="none" stroke="#5b7a80" stroke-width="0.55" stroke-linejoin="round" /><polyline points="389.2,251.4 457.5,276.4" fill="none" stroke="#7a969b" stroke-width="0.55" stroke-linejoin="round" /><path d="M389.5,228.0v24.5M391.5,228.8v24.5M411.9,236.2v24.3M414.0,237.0v24.3M434.4,244.5v24.2M436.4,245.2v24.2M455.5,252.2v24.0M457.5,253.0v24.0" fill="none" stroke="#7a969b" stroke-width="0.4" /><path d="M390.9,229.7l4.5,1.65v1.3l-4.5,-1.65zM397.7,232.2l4.5,1.65v1.3l-4.5,-1.65zM404.5,234.7l4.5,1.65v1.3l-4.5,-1.65zM411.3,237.2l4.5,1.65v1.3l-4.5,-1.65zM418.1,239.7l4.5,1.65v1.3l-4.5,-1.65zM424.9,242.2l4.5,1.65v1.3l-4.5,-1.65zM431.7,244.7l4.5,1.65v1.3l-4.5,-1.65zM438.5,247.2l4.5,1.65v1.3l-4.5,-1.65zM445.3,249.7l4.5,1.65v1.3l-4.5,-1.65zM452.1,252.2l4.5,1.65v1.3l-4.5,-1.65zM390.9,233.6l4.5,1.65v1.3l-4.5,-1.65zM397.7,236.1l4.5,1.65v1.3l-4.5,-1.65zM404.5,238.6l4.5,1.65v1.3l-4.5,-1.65zM411.3,241.1l4.5,1.65v1.3l-4.5,-1.65zM418.1,243.6l4.5,1.65v1.3l-4.5,-1.65zM424.9,246.1l4.5,1.65v1.3l-4.5,-1.65zM431.7,248.6l4.5,1.65v1.3l-4.5,-1.65zM438.5,251.1l4.5,1.65v1.3l-4.5,-1.65zM445.3,253.6l4.5,1.65v1.3l-4.5,-1.65zM452.1,256.1l4.5,1.65v1.3l-4.5,-1.65zM390.9,237.5l4.5,1.65v1.3l-4.5,-1.65zM397.7,240.0l4.5,1.65v1.3l-4.5,-1.65zM404.5,242.5l4.5,1.65v1.3l-4.5,-1.65zM411.3,245.0l4.5,1.65v1.3l-4.5,-1.65zM418.1,247.5l4.5,1.65v1.3l-4.5,-1.65zM424.9,250.0l4.5,1.65v1.3l-4.5,-1.65zM431.7,252.5l4.5,1.65v1.3l-4.5,-1.65zM438.5,255.0l4.5,1.65v1.3l-4.5,-1.65zM445.3,257.5l4.5,1.65v1.3l-4.5,-1.65zM452.1,260.0l4.5,1.65v1.3l-4.5,-1.65zM390.9,241.4l4.5,1.65v1.3l-4.5,-1.65zM397.7,243.9l4.5,1.65v1.3l-4.5,-1.65zM404.5,246.4l4.5,1.65v1.3l-4.5,-1.65zM411.3,248.9l4.5,1.65v1.3l-4.5,-1.65zM418.1,251.4l4.5,1.65v1.3l-4.5,-1.65zM424.9,253.9l4.5,1.65v1.3l-4.5,-1.65zM431.7,256.4l4.5,1.65v1.3l-4.5,-1.65zM438.5,258.9l4.5,1.65v1.3l-4.5,-1.65zM445.3,261.4l4.5,1.65v1.3l-4.5,-1.65zM452.1,263.9l4.5,1.65v1.3l-4.5,-1.65zM390.9,245.3l4.5,1.65v1.3l-4.5,-1.65zM397.7,247.8l4.5,1.65v1.3l-4.5,-1.65zM404.5,250.3l4.5,1.65v1.3l-4.5,-1.65zM411.3,252.8l4.5,1.65v1.3l-4.5,-1.65zM418.1,255.3l4.5,1.65v1.3l-4.5,-1.65zM424.9,257.8l4.5,1.65v1.3l-4.5,-1.65zM431.7,260.3l4.5,1.65v1.3l-4.5,-1.65zM438.5,262.8l4.5,1.65v1.3l-4.5,-1.65zM445.3,265.3l4.5,1.65v1.3l-4.5,-1.65zM452.1,267.8l4.5,1.65v1.3l-4.5,-1.65zM390.9,249.2l4.5,1.65v1.3l-4.5,-1.65zM397.7,251.7l4.5,1.65v1.3l-4.5,-1.65zM404.5,254.2l4.5,1.65v1.3l-4.5,-1.65zM411.3,256.7l4.5,1.65v1.3l-4.5,-1.65zM418.1,259.2l4.5,1.65v1.3l-4.5,-1.65zM424.9,261.7l4.5,1.65v1.3l-4.5,-1.65zM431.7,264.2l4.5,1.65v1.3l-4.5,-1.65zM438.5,266.7l4.5,1.65v1.3l-4.5,-1.65zM445.3,269.2l4.5,1.65v1.3l-4.5,-1.65zM452.1,271.7l4.5,1.65v1.3l-4.5,-1.65z" fill="#c5dbde" stroke="none"/><polyline points="389.4,227.7 457.7,252.0 457.0,279.0" fill="none" stroke="#7a969b" stroke-width="0.55" stroke-linejoin="round" /><polyline points="457.7,252.0 469.2,236.3" fill="none" stroke="#7a969b" stroke-width="0.5" stroke-linejoin="round" /><polyline points="469.2,236.3 470.0,262.0 463.3,279.2" fill="none" stroke="#7a969b" stroke-width="0.5" stroke-linejoin="round" /><polygon points="408.3,225.2 410.7,223.5 414.9,225.3 414.9,229.9 408.3,227.1" fill="#e2f2f4" stroke="#7a969b" stroke-width="0.5" stroke-linejoin="round" /><polyline points="408.3,225.2 412.7,227.1 414.9,225.3" fill="none" stroke="#7a969b" stroke-width="0.4" stroke-linejoin="round" /><polyline points="412.7,227.1 412.7,229.1" fill="none" stroke="#7a969b" stroke-width="0.4" stroke-linejoin="round" /><polygon points="418.9,230.0 421.3,228.3 425.5,230.1 425.5,234.7 418.9,231.9" fill="#e2f2f4" stroke="#7a969b" stroke-width="0.5" stroke-linejoin="round" /><polyline points="418.9,230.0 423.3,231.9 425.5,230.1" fill="none" stroke="#7a969b" stroke-width="0.4" stroke-linejoin="round" /><polyline points="423.3,231.9 423.3,233.9" fill="none" stroke="#7a969b" stroke-width="0.4" stroke-linejoin="round" /><polygon points="430.5,235.8 432.9,234.1 437.1,235.9 437.1,240.5 430.5,237.7" fill="#e2f2f4" stroke="#7a969b" stroke-width="0.5" stroke-linejoin="round" /><polyline points="430.5,235.8 434.9,237.7 437.1,235.9" fill="none" stroke="#7a969b" stroke-width="0.4" stroke-linejoin="round" /><polyline points="434.9,237.7 434.9,239.7" fill="none" stroke="#7a969b" stroke-width="0.4" stroke-linejoin="round" /><polygon points="443.0,241.5 445.4,239.8 449.6,241.6 449.6,246.2 443.0,243.4" fill="#e2f2f4" stroke="#7a969b" stroke-width="0.5" stroke-linejoin="round" /><polyline points="443.0,241.5 447.4,243.4 449.6,241.6" fill="none" stroke="#7a969b" stroke-width="0.4" stroke-linejoin="round" /><polyline points="447.4,243.4 447.4,245.4" fill="none" stroke="#7a969b" stroke-width="0.4" stroke-linejoin="round" /><polygon points="452.4,209.6 454.2,207.8 457.2,209.0 457.2,213.1 452.4,211.9" fill="#e2f2f4" stroke="#7a969b" stroke-width="0.5" stroke-linejoin="round" /><polyline points="452.4,209.6 455.5,210.8 457.2,209.0" fill="none" stroke="#7a969b" stroke-width="0.4" stroke-linejoin="round" /><polygon points="460.7,214.0 462.5,212.2 465.5,213.4 465.5,217.5 460.7,216.3" fill="#e2f2f4" stroke="#7a969b" stroke-width="0.5" stroke-linejoin="round" /><polyline points="460.7,214.0 463.8,215.2 465.5,213.4" fill="none" stroke="#7a969b" stroke-width="0.4" stroke-linejoin="round" /><polygon points="474.2,218.0 476.0,216.2 479.0,217.4 479.0,221.5 474.2,220.3" fill="#e2f2f4" stroke="#7a969b" stroke-width="0.5" stroke-linejoin="round" /><polyline points="474.2,218.0 477.3,219.2 479.0,217.4" fill="none" stroke="#7a969b" stroke-width="0.4" stroke-linejoin="round" /><path d="M442.0,217.0h1.6v2.2h-1.6zM445.4,218.5h1.6v2.2h-1.6zM448.8,220.0h1.6v2.2h-1.6zM452.2,221.5h1.6v2.2h-1.6zM455.6,223.0h1.6v2.2h-1.6z" fill="none" stroke="#7a969b" stroke-width="0.45" /><polyline points="440.5,215.0 458.0,223.5" fill="none" stroke="#7a969b" stroke-width="0.45" stroke-linejoin="round" /><polyline points="423.4,196.1 440.0,206.0 483.4,226.5 499.0,220.0" fill="none" stroke="#7a969b" stroke-width="0.5" stroke-linejoin="round" /><polyline points="440.0,206.0 441.0,214.0 482.0,232.0" fill="none" stroke="#7a969b" stroke-width="0.45" stroke-linejoin="round" /><polyline points="456.0,171.3 445.0,205.0" fill="none" stroke="#7a969b" stroke-width="0.45" stroke-linejoin="round" /><polyline points="466.5,183.0 471.0,209.0" fill="none" stroke="#7a969b" stroke-width="0.45" stroke-linejoin="round" /><path d="M419.5,203.5 Q421,198.5 425,198.5 Q429.5,198.5 430.5,203.5" fill="#e6f3f5" stroke="#7a969b" stroke-width="0.5"/><polyline points="483.4,206.5 487.0,230.0 502.2,222.0" fill="none" stroke="#7a969b" stroke-width="0.45" stroke-linejoin="round" /><polyline points="487.0,230.0 486.0,252.0" fill="none" stroke="#7a969b" stroke-width="0.45" stroke-linejoin="round" /><polyline points="479.5,245.0 486.0,236.0 492.0,246.0 492.0,256.0" fill="none" stroke="#7a969b" stroke-width="0.45" stroke-linejoin="round" /><path d="M493.0,232.0h4v2h-4zM493.0,236.0h4v2h-4zM493.0,240.0h4v2h-4zM493.0,244.0h4v2h-4z" fill="none" stroke="#7a969b" stroke-width="0.4" /><polyline points="472.0,244.0 482.0,240.0" fill="none" stroke="#7a969b" stroke-width="0.4" stroke-linejoin="round" /><polyline points="472.0,248.0 482.0,244.0" fill="none" stroke="#7a969b" stroke-width="0.4" stroke-linejoin="round" /><polyline points="472.0,252.0 482.0,248.0" fill="none" stroke="#7a969b" stroke-width="0.4" stroke-linejoin="round" /><polyline points="472.0,256.0 482.0,252.0" fill="none" stroke="#7a969b" stroke-width="0.4" stroke-linejoin="round" /><polyline points="472.0,260.0 482.0,256.0" fill="none" stroke="#7a969b" stroke-width="0.4" stroke-linejoin="round" /><ellipse cx="410" cy="203.5" rx="1" ry="1.4" fill="none" stroke="#7a969b" stroke-width="0.5"/><ellipse cx="384.5" cy="219" rx="1" ry="1.4" fill="none" stroke="#7a969b" stroke-width="0.5"/><polygon points="346.9,233.1 410.4,177.3 423.3,198.5 429.1,184.7 435.5,188.5 456.0,171.2 465.6,184.7 465.6,194.3 468.3,195.3 468.5,193.8 471.8,194.8 472.5,197.8 476.0,198.6 476.3,197.3 479.5,198.5 480.0,201.5 483.0,203.9 492.0,209.0 498.3,213.5 501.6,217.5 502.2,247.2 482.8,257.6 476.5,256.3 475.8,266.7 463.3,279.2 456.4,277.8 450.8,282.6 386.2,252.3 370.0,270.8 349.2,263.8" fill="none" stroke="#1f4d57" stroke-width="1.7" stroke-linejoin="round" /><polyline points="446.0,161.0 545.6,82.6" fill="none" stroke="#3cb4cb" stroke-width="1.3" stroke-linejoin="round" stroke-dasharray="0.1 2.6" stroke-linecap="round"/><polyline points="476.2,260.0 566.4,303.1" fill="none" stroke="#3cb4cb" stroke-width="1.3" stroke-linejoin="round" stroke-dasharray="0.1 2.6" stroke-linecap="round"/><polyline points="549.6,213.1 648.9,260.4" fill="none" stroke="#3cb4cb" stroke-width="1.3" stroke-linejoin="round" stroke-dasharray="0.1 2.6" stroke-linecap="round"/><polyline points="256.9,223.1 313.8,210.0" fill="none" stroke="#3cb4cb" stroke-width="1.3" stroke-linejoin="round" stroke-dasharray="0.1 2.6" stroke-linecap="round"/><polyline points="281.5,219.2 329.2,216.9" fill="none" stroke="#3cb4cb" stroke-width="1.3" stroke-linejoin="round" stroke-dasharray="0.1 2.6" stroke-linecap="round"/><polyline points="352.6,209.5 393.6,189.0" fill="none" stroke="#3cb4cb" stroke-width="1.3" stroke-linejoin="round" stroke-dasharray="0.1 2.6" stroke-linecap="round"/><polyline points="419.0,138.5 445.5,161.0" fill="none" stroke="#22aac4" stroke-width="3.4" stroke-linejoin="round" stroke-dasharray="1.3 0.9"/><polyline points="446.5,165.0 524.7,202.5" fill="none" stroke="#22aac4" stroke-width="3.4" stroke-linejoin="round" stroke-dasharray="1.3 0.9"/><path d="M371,188.7 Q392,184 401,182.1 Q410,179 415,175 Q423,170 430.4,167.4 Q437,164.8 443.5,164.2" fill="none" stroke="#5fdcec" stroke-width="3" stroke-dasharray="1.1 1.1"/><path d="M420.6,186 Q425,181 430.4,176.2 Q436,172 443.5,170.2" fill="none" stroke="#5fdcec" stroke-width="3" stroke-dasharray="1.1 1.1"/>
<ellipse cx="281.0" cy="117.5" rx="6.60" ry="7.40" fill="none" stroke="#8c8c8c" stroke-width="0.6"/><path d="M281.0,124.9v2.6M280.4,127.5h1.2" stroke="#8c8c8c" stroke-width="0.55"/><ellipse cx="305.0" cy="126.0" rx="6.60" ry="7.40" fill="none" stroke="#8c8c8c" stroke-width="0.6"/><path d="M305.0,133.4v2.6M304.4,136.0h1.2" stroke="#8c8c8c" stroke-width="0.55"/><ellipse cx="331.0" cy="140.0" rx="6.60" ry="7.40" fill="none" stroke="#8c8c8c" stroke-width="0.6"/><path d="M331.0,147.4v2.6M330.4,150.0h1.2" stroke="#8c8c8c" stroke-width="0.55"/><ellipse cx="326.0" cy="142.0" rx="6.60" ry="7.40" fill="none" stroke="#8c8c8c" stroke-width="0.6"/><path d="M326.0,149.4v2.6M325.4,152.0h1.2" stroke="#8c8c8c" stroke-width="0.55"/>
<ellipse cx="519.5" cy="77.7" rx="5.41" ry="6.51" fill="#fff" stroke="#8c8c8c" stroke-width="0.6"/><path d="M519.5,84.2v2.6M518.9,86.8h1.2" stroke="#8c8c8c" stroke-width="0.55"/><ellipse cx="507.7" cy="82.2" rx="5.50" ry="6.60" fill="#fff" stroke="#8c8c8c" stroke-width="0.6"/><path d="M507.7,88.8v2.6M507.1,91.4h1.2" stroke="#8c8c8c" stroke-width="0.55"/><ellipse cx="496.4" cy="87.7" rx="5.61" ry="6.71" fill="#fff" stroke="#8c8c8c" stroke-width="0.6"/><path d="M496.4,94.4v2.6M495.8,97.0h1.2" stroke="#8c8c8c" stroke-width="0.55"/><ellipse cx="568.7" cy="88.0" rx="5.62" ry="6.72" fill="#fff" stroke="#8c8c8c" stroke-width="0.6"/><path d="M568.7,94.7v2.6M568.1,97.3h1.2" stroke="#8c8c8c" stroke-width="0.55"/><ellipse cx="579.0" cy="91.0" rx="5.68" ry="6.78" fill="#fff" stroke="#8c8c8c" stroke-width="0.6"/><path d="M579.0,97.8v2.6M578.4,100.4h1.2" stroke="#8c8c8c" stroke-width="0.55"/><ellipse cx="555.8" cy="94.1" rx="5.74" ry="6.84" fill="#fff" stroke="#8c8c8c" stroke-width="0.6"/><path d="M555.8,100.9v2.6M555.2,103.5h1.2" stroke="#8c8c8c" stroke-width="0.55"/><ellipse cx="487.2" cy="94.5" rx="5.75" ry="6.85" fill="#fff" stroke="#8c8c8c" stroke-width="0.6"/><path d="M487.2,101.3v2.6M486.6,103.9h1.2" stroke="#8c8c8c" stroke-width="0.55"/><ellipse cx="482.0" cy="96.5" rx="5.79" ry="6.89" fill="#fff" stroke="#8c8c8c" stroke-width="0.6"/><path d="M482.0,103.4v2.6M481.4,106.0h1.2" stroke="#8c8c8c" stroke-width="0.55"/><ellipse cx="468.3" cy="102.0" rx="5.90" ry="7.00" fill="#fff" stroke="#8c8c8c" stroke-width="0.6"/><path d="M468.3,109.0v2.6M467.7,111.6h1.2" stroke="#8c8c8c" stroke-width="0.55"/><ellipse cx="457.0" cy="107.6" rx="6.01" ry="7.11" fill="#fff" stroke="#8c8c8c" stroke-width="0.6"/><path d="M457.0,114.7v2.6M456.4,117.3h1.2" stroke="#8c8c8c" stroke-width="0.55"/><ellipse cx="444.1" cy="112.9" rx="6.12" ry="7.22" fill="#fff" stroke="#8c8c8c" stroke-width="0.6"/><path d="M444.1,120.1v2.6M443.5,122.7h1.2" stroke="#8c8c8c" stroke-width="0.55"/><ellipse cx="651.3" cy="170.0" rx="6.60" ry="7.40" fill="#fff" stroke="#8c8c8c" stroke-width="0.6"/><path d="M651.3,177.4v2.6M650.7,180.0h1.2" stroke="#8c8c8c" stroke-width="0.55"/><ellipse cx="170.8" cy="182.0" rx="6.60" ry="7.40" fill="#fff" stroke="#8c8c8c" stroke-width="0.6"/><path d="M170.8,189.4v2.6M170.2,192.0h1.2" stroke="#8c8c8c" stroke-width="0.55"/><ellipse cx="641.0" cy="182.8" rx="6.60" ry="7.40" fill="#fff" stroke="#8c8c8c" stroke-width="0.6"/><path d="M641.0,190.2v2.6M640.4,192.8h1.2" stroke="#8c8c8c" stroke-width="0.55"/><ellipse cx="630.8" cy="195.6" rx="6.60" ry="7.40" fill="#fff" stroke="#8c8c8c" stroke-width="0.6"/><path d="M630.8,203.0v2.6M630.2,205.6h1.2" stroke="#8c8c8c" stroke-width="0.55"/><ellipse cx="621.0" cy="207.2" rx="6.60" ry="7.40" fill="#fff" stroke="#8c8c8c" stroke-width="0.6"/><path d="M621.0,214.6v2.6M620.4,217.2h1.2" stroke="#8c8c8c" stroke-width="0.55"/><ellipse cx="175.4" cy="212.5" rx="6.60" ry="7.40" fill="#fff" stroke="#8c8c8c" stroke-width="0.6"/><path d="M175.4,219.9v2.6M174.8,222.5h1.2" stroke="#8c8c8c" stroke-width="0.55"/><ellipse cx="617.7" cy="212.8" rx="6.60" ry="7.40" fill="#fff" stroke="#8c8c8c" stroke-width="0.6"/><path d="M617.7,220.2v2.6M617.1,222.8h1.2" stroke="#8c8c8c" stroke-width="0.55"/><ellipse cx="541.0" cy="219.0" rx="6.60" ry="7.40" fill="#fff" stroke="#8c8c8c" stroke-width="0.6"/><path d="M541.0,226.4v2.6M540.4,229.0h1.2" stroke="#8c8c8c" stroke-width="0.55"/><ellipse cx="183.8" cy="222.0" rx="6.60" ry="7.40" fill="#fff" stroke="#8c8c8c" stroke-width="0.6"/><path d="M183.8,229.4v2.6M183.2,232.0h1.2" stroke="#8c8c8c" stroke-width="0.55"/><ellipse cx="246.3" cy="240.5" rx="6.60" ry="7.40" fill="#fff" stroke="#8c8c8c" stroke-width="0.6"/><path d="M246.3,247.9v2.6M245.7,250.5h1.2" stroke="#8c8c8c" stroke-width="0.55"/><ellipse cx="261.8" cy="241.3" rx="6.60" ry="7.40" fill="#fff" stroke="#8c8c8c" stroke-width="0.6"/><path d="M261.8,248.7v2.6M261.2,251.3h1.2" stroke="#8c8c8c" stroke-width="0.55"/><ellipse cx="538.1" cy="259.0" rx="6.60" ry="7.40" fill="#fff" stroke="#8c8c8c" stroke-width="0.6"/><path d="M538.1,266.4v2.6M537.5,269.0h1.2" stroke="#8c8c8c" stroke-width="0.55"/><ellipse cx="529.5" cy="268.8" rx="6.60" ry="7.40" fill="#fff" stroke="#8c8c8c" stroke-width="0.6"/><path d="M529.5,276.2v2.6M528.9,278.8h1.2" stroke="#8c8c8c" stroke-width="0.55"/><ellipse cx="331.3" cy="274.5" rx="6.60" ry="7.40" fill="#fff" stroke="#8c8c8c" stroke-width="0.6"/><path d="M331.3,281.9v2.6M330.7,284.5h1.2" stroke="#8c8c8c" stroke-width="0.55"/><ellipse cx="315.0" cy="276.3" rx="6.60" ry="7.40" fill="#fff" stroke="#8c8c8c" stroke-width="0.6"/><path d="M315.0,283.7v2.6M314.4,286.3h1.2" stroke="#8c8c8c" stroke-width="0.55"/><ellipse cx="520.3" cy="277.4" rx="6.60" ry="7.40" fill="#fff" stroke="#8c8c8c" stroke-width="0.6"/><path d="M520.3,284.8v2.6M519.7,287.4h1.2" stroke="#8c8c8c" stroke-width="0.55"/><ellipse cx="299.0" cy="282.0" rx="6.60" ry="7.40" fill="#fff" stroke="#8c8c8c" stroke-width="0.6"/><path d="M299.0,289.4v2.6M298.4,292.0h1.2" stroke="#8c8c8c" stroke-width="0.55"/><ellipse cx="349.0" cy="283.0" rx="6.60" ry="7.40" fill="#fff" stroke="#8c8c8c" stroke-width="0.6"/><path d="M349.0,290.4v2.6M348.4,293.0h1.2" stroke="#8c8c8c" stroke-width="0.55"/><ellipse cx="225.0" cy="284.5" rx="6.60" ry="7.40" fill="#fff" stroke="#8c8c8c" stroke-width="0.6"/><path d="M225.0,291.9v2.6M224.4,294.5h1.2" stroke="#8c8c8c" stroke-width="0.55"/><ellipse cx="252.0" cy="284.5" rx="6.60" ry="7.40" fill="#fff" stroke="#8c8c8c" stroke-width="0.6"/><path d="M252.0,291.9v2.6M251.4,294.5h1.2" stroke="#8c8c8c" stroke-width="0.55"/><ellipse cx="512.0" cy="287.7" rx="6.60" ry="7.40" fill="#fff" stroke="#8c8c8c" stroke-width="0.6"/><path d="M512.0,295.1v2.6M511.4,297.7h1.2" stroke="#8c8c8c" stroke-width="0.55"/><ellipse cx="334.5" cy="289.5" rx="6.60" ry="7.40" fill="#fff" stroke="#8c8c8c" stroke-width="0.6"/><path d="M334.5,296.9v2.6M333.9,299.5h1.2" stroke="#8c8c8c" stroke-width="0.55"/><ellipse cx="318.3" cy="290.5" rx="6.60" ry="7.40" fill="#fff" stroke="#8c8c8c" stroke-width="0.6"/><path d="M318.3,297.9v2.6M317.7,300.5h1.2" stroke="#8c8c8c" stroke-width="0.55"/><ellipse cx="242.5" cy="297.5" rx="6.60" ry="7.40" fill="#fff" stroke="#8c8c8c" stroke-width="0.6"/><path d="M242.5,304.9v2.6M241.9,307.5h1.2" stroke="#8c8c8c" stroke-width="0.55"/><ellipse cx="502.4" cy="297.5" rx="6.60" ry="7.40" fill="#fff" stroke="#8c8c8c" stroke-width="0.6"/><path d="M502.4,304.9v2.6M501.8,307.5h1.2" stroke="#8c8c8c" stroke-width="0.55"/><ellipse cx="341.3" cy="298.8" rx="6.60" ry="7.40" fill="#fff" stroke="#8c8c8c" stroke-width="0.6"/><path d="M341.3,306.2v2.6M340.7,308.8h1.2" stroke="#8c8c8c" stroke-width="0.55"/><ellipse cx="492.6" cy="307.2" rx="6.60" ry="7.40" fill="#fff" stroke="#8c8c8c" stroke-width="0.6"/><path d="M492.6,314.6v2.6M492.0,317.2h1.2" stroke="#8c8c8c" stroke-width="0.55"/><ellipse cx="225.5" cy="309.5" rx="6.60" ry="7.40" fill="#fff" stroke="#8c8c8c" stroke-width="0.6"/><path d="M225.5,316.9v2.6M224.9,319.5h1.2" stroke="#8c8c8c" stroke-width="0.55"/><ellipse cx="241.3" cy="310.0" rx="6.60" ry="7.40" fill="#fff" stroke="#8c8c8c" stroke-width="0.6"/><path d="M241.3,317.4v2.6M240.7,320.0h1.2" stroke="#8c8c8c" stroke-width="0.55"/><ellipse cx="243.0" cy="322.5" rx="6.60" ry="7.40" fill="#fff" stroke="#8c8c8c" stroke-width="0.6"/><path d="M243.0,329.9v2.6M242.4,332.5h1.2" stroke="#8c8c8c" stroke-width="0.55"/><ellipse cx="352.6" cy="328.0" rx="6.60" ry="7.40" fill="#fff" stroke="#8c8c8c" stroke-width="0.6"/><path d="M352.6,335.4v2.6M352.0,338.0h1.2" stroke="#8c8c8c" stroke-width="0.55"/><ellipse cx="508.5" cy="328.5" rx="6.60" ry="7.40" fill="#fff" stroke="#8c8c8c" stroke-width="0.6"/><path d="M508.5,335.9v2.6M507.9,338.5h1.2" stroke="#8c8c8c" stroke-width="0.55"/><ellipse cx="486.9" cy="330.0" rx="6.60" ry="7.40" fill="#fff" stroke="#8c8c8c" stroke-width="0.6"/><path d="M486.9,337.4v2.6M486.3,340.0h1.2" stroke="#8c8c8c" stroke-width="0.55"/><ellipse cx="521.2" cy="330.0" rx="6.60" ry="7.40" fill="#fff" stroke="#8c8c8c" stroke-width="0.6"/><path d="M521.2,337.4v2.6M520.6,340.0h1.2" stroke="#8c8c8c" stroke-width="0.55"/><ellipse cx="457.2" cy="331.0" rx="6.60" ry="7.40" fill="#fff" stroke="#8c8c8c" stroke-width="0.6"/><path d="M457.2,338.4v2.6M456.6,341.0h1.2" stroke="#8c8c8c" stroke-width="0.55"/><ellipse cx="228.3" cy="331.3" rx="6.60" ry="7.40" fill="#fff" stroke="#8c8c8c" stroke-width="0.6"/><path d="M228.3,338.7v2.6M227.7,341.3h1.2" stroke="#8c8c8c" stroke-width="0.55"/><ellipse cx="248.0" cy="333.8" rx="6.60" ry="7.40" fill="#fff" stroke="#8c8c8c" stroke-width="0.6"/><path d="M248.0,341.2v2.6M247.4,343.8h1.2" stroke="#8c8c8c" stroke-width="0.55"/><ellipse cx="477.3" cy="334.1" rx="6.60" ry="7.40" fill="#fff" stroke="#8c8c8c" stroke-width="0.6"/><path d="M477.3,341.5v2.6M476.7,344.1h1.2" stroke="#8c8c8c" stroke-width="0.55"/><ellipse cx="366.9" cy="335.5" rx="6.60" ry="7.40" fill="#fff" stroke="#8c8c8c" stroke-width="0.6"/><path d="M366.9,342.9v2.6M366.3,345.5h1.2" stroke="#8c8c8c" stroke-width="0.55"/><ellipse cx="465.4" cy="339.2" rx="6.60" ry="7.40" fill="#fff" stroke="#8c8c8c" stroke-width="0.6"/><path d="M465.4,346.6v2.6M464.8,349.2h1.2" stroke="#8c8c8c" stroke-width="0.55"/><ellipse cx="534.3" cy="339.2" rx="6.60" ry="7.40" fill="#fff" stroke="#8c8c8c" stroke-width="0.6"/><path d="M534.3,346.6v2.6M533.7,349.2h1.2" stroke="#8c8c8c" stroke-width="0.55"/><ellipse cx="378.6" cy="341.3" rx="6.60" ry="7.40" fill="#fff" stroke="#8c8c8c" stroke-width="0.6"/><path d="M378.6,348.7v2.6M378.0,351.3h1.2" stroke="#8c8c8c" stroke-width="0.55"/><ellipse cx="253.0" cy="344.5" rx="6.60" ry="7.40" fill="#fff" stroke="#8c8c8c" stroke-width="0.6"/><path d="M253.0,351.9v2.6M252.4,354.5h1.2" stroke="#8c8c8c" stroke-width="0.55"/><ellipse cx="521.2" cy="345.1" rx="6.60" ry="7.40" fill="#fff" stroke="#8c8c8c" stroke-width="0.6"/><path d="M521.2,352.5v2.6M520.6,355.1h1.2" stroke="#8c8c8c" stroke-width="0.55"/><ellipse cx="454.1" cy="345.4" rx="6.60" ry="7.40" fill="#fff" stroke="#8c8c8c" stroke-width="0.6"/><path d="M454.1,352.8v2.6M453.5,355.4h1.2" stroke="#8c8c8c" stroke-width="0.55"/><ellipse cx="242.5" cy="346.0" rx="6.60" ry="7.40" fill="#fff" stroke="#8c8c8c" stroke-width="0.6"/><path d="M242.5,353.4v2.6M241.9,356.0h1.2" stroke="#8c8c8c" stroke-width="0.55"/><ellipse cx="542.8" cy="347.7" rx="6.60" ry="7.40" fill="#fff" stroke="#8c8c8c" stroke-width="0.6"/><path d="M542.8,355.1v2.6M542.2,357.7h1.2" stroke="#8c8c8c" stroke-width="0.55"/><ellipse cx="388.0" cy="351.5" rx="6.60" ry="7.40" fill="#fff" stroke="#8c8c8c" stroke-width="0.6"/><path d="M388.0,358.9v2.6M387.4,361.5h1.2" stroke="#8c8c8c" stroke-width="0.55"/><ellipse cx="441.8" cy="351.5" rx="6.60" ry="7.40" fill="#fff" stroke="#8c8c8c" stroke-width="0.6"/><path d="M441.8,358.9v2.6M441.2,361.5h1.2" stroke="#8c8c8c" stroke-width="0.55"/><ellipse cx="242.1" cy="352.4" rx="6.60" ry="7.40" fill="#fff" stroke="#8c8c8c" stroke-width="0.6"/><path d="M242.1,359.8v2.6M241.5,362.4h1.2" stroke="#8c8c8c" stroke-width="0.55"/><ellipse cx="513.1" cy="356.9" rx="6.60" ry="7.40" fill="#fff" stroke="#8c8c8c" stroke-width="0.6"/><path d="M513.1,364.3v2.6M512.5,366.9h1.2" stroke="#8c8c8c" stroke-width="0.55"/><ellipse cx="427.4" cy="357.3" rx="6.60" ry="7.40" fill="#fff" stroke="#8c8c8c" stroke-width="0.6"/><path d="M427.4,364.7v2.6M426.8,367.3h1.2" stroke="#8c8c8c" stroke-width="0.55"/><ellipse cx="528.9" cy="361.2" rx="6.60" ry="7.40" fill="#fff" stroke="#8c8c8c" stroke-width="0.6"/><path d="M528.9,368.6v2.6M528.3,371.2h1.2" stroke="#8c8c8c" stroke-width="0.55"/><ellipse cx="266.3" cy="364.1" rx="6.60" ry="7.40" fill="#fff" stroke="#8c8c8c" stroke-width="0.6"/><path d="M266.3,371.5v2.6M265.7,374.1h1.2" stroke="#8c8c8c" stroke-width="0.55"/><ellipse cx="238.6" cy="369.2" rx="6.60" ry="7.40" fill="#fff" stroke="#8c8c8c" stroke-width="0.6"/><path d="M238.6,376.6v2.6M238.0,379.2h1.2" stroke="#8c8c8c" stroke-width="0.55"/><ellipse cx="518.1" cy="375.1" rx="6.60" ry="7.40" fill="#fff" stroke="#8c8c8c" stroke-width="0.6"/><path d="M518.1,382.5v2.6M517.5,385.1h1.2" stroke="#8c8c8c" stroke-width="0.55"/><ellipse cx="277.5" cy="379.1" rx="6.60" ry="7.40" fill="#fff" stroke="#8c8c8c" stroke-width="0.6"/><path d="M277.5,386.5v2.6M276.9,389.1h1.2" stroke="#8c8c8c" stroke-width="0.55"/><ellipse cx="263.2" cy="379.5" rx="6.60" ry="7.40" fill="#fff" stroke="#8c8c8c" stroke-width="0.6"/><path d="M263.2,386.9v2.6M262.6,389.5h1.2" stroke="#8c8c8c" stroke-width="0.55"/><ellipse cx="505.0" cy="379.8" rx="6.60" ry="7.40" fill="#fff" stroke="#8c8c8c" stroke-width="0.6"/><path d="M505.0,387.2v2.6M504.4,389.8h1.2" stroke="#8c8c8c" stroke-width="0.55"/><ellipse cx="273.4" cy="392.8" rx="6.60" ry="7.40" fill="#fff" stroke="#8c8c8c" stroke-width="0.6"/><path d="M273.4,400.2v2.6M272.8,402.8h1.2" stroke="#8c8c8c" stroke-width="0.55"/><ellipse cx="421.3" cy="394.6" rx="6.60" ry="7.40" fill="#fff" stroke="#8c8c8c" stroke-width="0.6"/><path d="M421.3,402.0v2.6M420.7,404.6h1.2" stroke="#8c8c8c" stroke-width="0.55"/><ellipse cx="434.6" cy="400.7" rx="6.60" ry="7.40" fill="#fff" stroke="#8c8c8c" stroke-width="0.6"/><path d="M434.6,408.1v2.6M434.0,410.7h1.2" stroke="#8c8c8c" stroke-width="0.55"/><ellipse cx="283.7" cy="401.6" rx="6.60" ry="7.40" fill="#fff" stroke="#8c8c8c" stroke-width="0.6"/><path d="M283.7,409.0v2.6M283.1,411.6h1.2" stroke="#8c8c8c" stroke-width="0.55"/><ellipse cx="424.4" cy="405.8" rx="6.60" ry="7.40" fill="#fff" stroke="#8c8c8c" stroke-width="0.6"/><path d="M424.4,413.2v2.6M423.8,415.8h1.2" stroke="#8c8c8c" stroke-width="0.55"/><ellipse cx="449.6" cy="406.5" rx="6.60" ry="7.40" fill="#fff" stroke="#8c8c8c" stroke-width="0.6"/><path d="M449.6,413.9v2.6M449.0,416.5h1.2" stroke="#8c8c8c" stroke-width="0.55"/><ellipse cx="412.0" cy="407.9" rx="6.60" ry="7.40" fill="#fff" stroke="#8c8c8c" stroke-width="0.6"/><path d="M412.0,415.3v2.6M411.4,417.9h1.2" stroke="#8c8c8c" stroke-width="0.55"/><ellipse cx="396.7" cy="410.0" rx="6.60" ry="7.40" fill="#fff" stroke="#8c8c8c" stroke-width="0.6"/><path d="M396.7,417.4v2.6M396.1,420.0h1.2" stroke="#8c8c8c" stroke-width="0.55"/><ellipse cx="419.2" cy="418.2" rx="6.60" ry="7.40" fill="#fff" stroke="#8c8c8c" stroke-width="0.6"/><path d="M419.2,425.6v2.6M418.6,428.2h1.2" stroke="#8c8c8c" stroke-width="0.55"/><ellipse cx="400.4" cy="421.2" rx="6.60" ry="7.40" fill="#fff" stroke="#8c8c8c" stroke-width="0.6"/><path d="M400.4,428.6v2.6M399.8,431.2h1.2" stroke="#8c8c8c" stroke-width="0.55"/><ellipse cx="438.7" cy="422.3" rx="6.60" ry="7.40" fill="#fff" stroke="#8c8c8c" stroke-width="0.6"/><path d="M438.7,429.7v2.6M438.1,432.3h1.2" stroke="#8c8c8c" stroke-width="0.55"/><ellipse cx="410.6" cy="432.5" rx="6.60" ry="7.40" fill="#fff" stroke="#8c8c8c" stroke-width="0.6"/><path d="M410.6,439.9v2.6M410.0,442.5h1.2" stroke="#8c8c8c" stroke-width="0.55"/><ellipse cx="427.0" cy="435.2" rx="6.60" ry="7.40" fill="#fff" stroke="#8c8c8c" stroke-width="0.6"/><path d="M427.0,442.6v2.6M426.4,445.2h1.2" stroke="#8c8c8c" stroke-width="0.55"/>
<polygon points="310.2,79.2 319.0,71.1 327.5,78.5 327.5,90.3 310.2,90.3" fill="#fff"/><polyline points="307.2,82.1 319.0,70.6 331.4,82.1" fill="none" stroke="#3a3a3a" stroke-width="0.85"/><polyline points="310.2,79.2 310.2,90.3 327.5,90.3 327.5,78.5" fill="none" stroke="#3a3a3a" stroke-width="0.85"/><circle cx="316" cy="81.8" r="1.05" fill="#000"/><path d="M314.9,83.1h1.9v3h2.6v4.1h-1.2v-2.9h-3.3z" fill="#000"/><path d="M315,87.5V90.3" stroke="#000" stroke-width="0.8"/><rect x="320.1" y="86.1" width="2.9" height="4.2" fill="#000"/><path d="M316.8,84.6l2.4,1.2l2.4,-2.2" stroke="#000" stroke-width="0.7" fill="none"/><polygon points="338.5,79.2 347.5,71.1 356.3,78.4 356.3,90.3 338.5,90.3" fill="#fff"/><polyline points="335.5,82.1 347.5,70.6 360.4,82.1" fill="none" stroke="#3a3a3a" stroke-width="0.85"/><polyline points="338.5,79.2 338.5,90.3 356.3,90.3 356.3,78.4" fill="none" stroke="#3a3a3a" stroke-width="0.85"/><circle cx="342.00" cy="85.20" r="0.90" fill="#000"/><path d="M341.00,88.25V86.80Q341.00,86.40 341.40,86.40H342.60Q343.00,86.40 343.00,86.80V88.25Z" fill="#000"/><rect x="341.20" y="88.05" width="0.70" height="2.05" fill="#000"/><rect x="342.10" y="88.05" width="0.70" height="2.05" fill="#000"/><circle cx="345.70" cy="82.00" r="1.30" fill="#000"/><path d="M344.25,86.85V84.01Q344.25,83.61 344.65,83.61H346.75Q347.15,83.61 347.15,84.01V86.85Z" fill="#000"/><rect x="344.54" y="86.65" width="1.01" height="3.45" fill="#000"/><rect x="345.84" y="86.65" width="1.01" height="3.45" fill="#000"/><circle cx="350.10" cy="82.05" r="1.35" fill="#000"/><path d="M348.60,86.90V84.10Q348.60,83.70 349.00,83.70H351.20Q351.60,83.70 351.60,84.10V86.90Z" fill="#000"/><rect x="348.90" y="86.70" width="1.05" height="3.40" fill="#000"/><rect x="350.25" y="86.70" width="1.05" height="3.40" fill="#000"/><circle cx="353.30" cy="85.55" r="0.85" fill="#000"/><path d="M352.35,88.41V87.11Q352.35,86.71 352.75,86.71H353.85Q354.25,86.71 354.25,87.11V88.41Z" fill="#000"/><rect x="352.54" y="88.20" width="0.66" height="1.89" fill="#000"/><rect x="353.40" y="88.20" width="0.66" height="1.89" fill="#000"/><polygon points="421.9,115.2 430.5,107.5 439.9,115.6 439.9,127.3 421.9,127.3" fill="#fff"/><polyline points="418.5,118.5 430.5,107.0 443.1,118.5" fill="none" stroke="#3a3a3a" stroke-width="0.85"/><polyline points="421.9,115.2 421.9,127.3 439.9,127.3 439.9,115.6" fill="none" stroke="#3a3a3a" stroke-width="0.85"/><circle cx="425.40" cy="122.20" r="0.90" fill="#000"/><path d="M424.40,125.25V123.80Q424.40,123.40 424.80,123.40H426.00Q426.40,123.40 426.40,123.80V125.25Z" fill="#000"/><rect x="424.60" y="125.05" width="0.70" height="2.05" fill="#000"/><rect x="425.50" y="125.05" width="0.70" height="2.05" fill="#000"/><circle cx="429.10" cy="119.00" r="1.30" fill="#000"/><path d="M427.65,123.85V121.01Q427.65,120.61 428.05,120.61H430.15Q430.55,120.61 430.55,121.01V123.85Z" fill="#000"/><rect x="427.94" y="123.65" width="1.01" height="3.45" fill="#000"/><rect x="429.24" y="123.65" width="1.01" height="3.45" fill="#000"/><circle cx="433.50" cy="119.05" r="1.35" fill="#000"/><path d="M432.00,123.90V121.10Q432.00,120.70 432.40,120.70H434.60Q435.00,120.70 435.00,121.10V123.90Z" fill="#000"/><rect x="432.30" y="123.70" width="1.05" height="3.40" fill="#000"/><rect x="433.65" y="123.70" width="1.05" height="3.40" fill="#000"/><circle cx="436.70" cy="122.55" r="0.85" fill="#000"/><path d="M435.75,125.41V124.11Q435.75,123.71 436.15,123.71H437.25Q437.65,123.71 437.65,124.11V125.41Z" fill="#000"/><rect x="435.94" y="125.20" width="0.66" height="1.89" fill="#000"/><rect x="436.80" y="125.20" width="0.66" height="1.89" fill="#000"/><polygon points="449.5,115.9 458.2,107.5 467.0,115.2 467.0,127.3 449.5,127.3" fill="#fff"/><polyline points="446.9,118.5 458.2,107.0 470.6,118.5" fill="none" stroke="#3a3a3a" stroke-width="0.85"/><polyline points="449.5,115.9 449.5,127.3 467.0,127.3 467.0,115.2" fill="none" stroke="#3a3a3a" stroke-width="0.85"/><circle cx="457.8" cy="117.6" r="1.05" fill="#000"/><path d="M456.6,119.1h2.4l0.9,4.2h-1.2v3.5h-0.8v-3.5h-0.4v3.5h-0.8v-3.5h-1.1z" fill="#000"/><path d="M456.8,119.6l-2.3,-1.6M459,119.6l1.6,1.8" stroke="#000" stroke-width="0.7" fill="none"/><rect x="460.2" y="121" width="1.9" height="2.6" fill="#000"/><path d="M453.6,117.2l1.4,0.3" stroke="#000" stroke-width="0.8"/>
<path d="M333.4,94V176.5" stroke="#111" stroke-width="1.4" stroke-dasharray="3 2.2"/><path d="M330.3,173.8l3.1,3.1l3.1,-3.1" fill="none" stroke="#111" stroke-width="1.2"/><path d="M444.8,131.4V213.8" stroke="#111" stroke-width="1.4" stroke-dasharray="3 2.2"/><path d="M441.3,211l3.5,3.3l3.5,-3.3" fill="none" stroke="#111" stroke-width="1.2"/>
<text x="298.2" y="59.2" font-size="10.75">Maison de Ville</text>
<text x="404" y="93.8" font-size="10.75" xml:space="preserve">Maison  Proosdij</text>
<text x="622.6" y="458" font-size="10.75">Functions of the new buildings</text>
</svg></body></html>
